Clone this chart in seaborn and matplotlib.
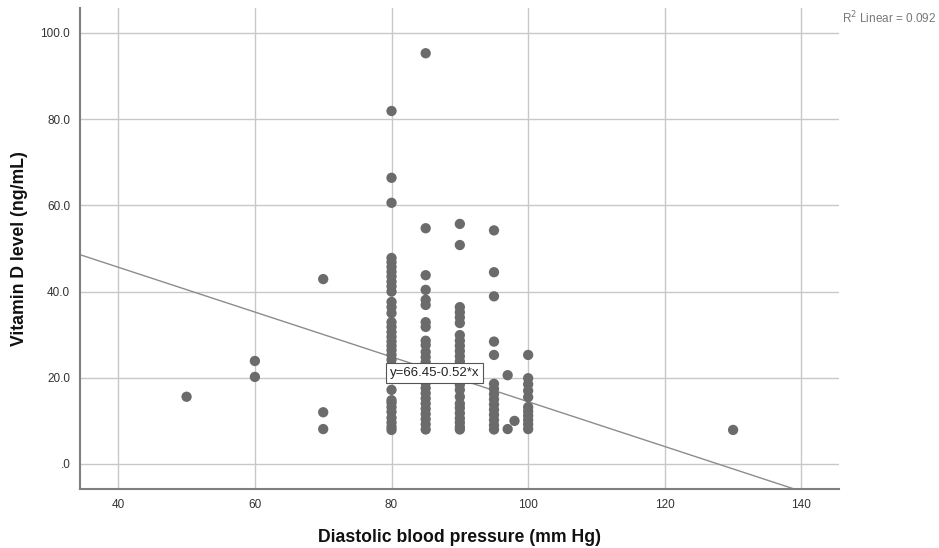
import numpy as np
import pandas as pd
import matplotlib
matplotlib.use("Agg")
import matplotlib.pyplot as plt
import seaborn as sns

# ---- data ----
vitd_50 = [15.6]
vitd_60 = [23.9, 20.2]
vitd_70 = [42.9, 12.0, 8.1]
vitd_80 = [81.9, 66.4, 60.6, 47.8, 46.8, 45.7, 44.6, 43.5, 42.3, 41.2, 40.0,
           37.6, 36.4, 35.0, 32.9, 31.8, 30.6, 29.5, 28.4, 27.4, 26.4, 25.3,
           24.2, 23.0, 21.8, 20.6, 17.2, 14.8, 14.2, 13.2, 12.1, 10.7, 9.6,
           8.6, 7.9]
vitd_85 = [95.3, 54.7, 43.8, 40.4, 38.1, 36.9, 32.9, 31.8, 28.6, 27.6, 26.0,
           24.8, 23.6, 22.4, 21.2, 20.0, 18.8, 17.6, 16.4, 15.2, 14.0, 12.8,
           11.6, 10.4, 9.2, 8.0]
vitd_90 = [55.7, 50.8, 36.4, 35.2, 34.0, 32.7, 29.9, 28.6, 27.4, 26.2, 25.0,
           23.8, 22.6, 21.4, 19.8, 18.4, 17.2, 15.6, 14.0, 13.0, 11.8, 10.6,
           9.6, 8.6, 8.0]
vitd_95 = [54.2, 44.5, 38.9, 28.4, 25.3, 18.6, 17.4, 16.2, 15.0, 13.8, 12.6,
           11.4, 10.2, 9.0, 8.0]
vitd_97 = [20.6, 8.1]
vitd_98 = [10.0]
vitd_100 = [25.3, 19.9, 18.5, 17.0, 15.5, 13.2, 12.2, 11.2, 10.2, 9.2, 8.1]
vitd_130 = [7.9]

groups = {50: vitd_50, 60: vitd_60, 70: vitd_70, 80: vitd_80, 85: vitd_85,
          90: vitd_90, 95: vitd_95, 97: vitd_97, 98: vitd_98, 100: vitd_100,
          130: vitd_130}

intercept = 66.45
slope = -0.52
r2_text = "R$^2$ Linear = 0.092"
eq_text = "y=66.45-0.52*x"

x_ticks = [40, 60, 80, 100, 120, 140]
y_ticks = [0, 20, 40, 60, 80, 100]
y_tick_labels = [".0", "20.0", "40.0", "60.0", "80.0", "100.0"]

df = pd.DataFrame([(k, v) for k, vals in groups.items() for v in vals],
                  columns=["dbp", "vitd"])

# ---- plot ----
sns.set_style("white")
plt.rcParams['font.family'] = ['Liberation Sans', 'DejaVu Sans']

fig = plt.figure(figsize=(9.39, 5.48), dpi=100)
ax = fig.add_axes([0.0852, 0.1077, 0.8083, 0.8777])

xlim = (34.4, 145.5)
ylim = (-5.8, 105.8)

ax.grid(True, color="#c8c8c8", linewidth=1.0)
ax.set_axisbelow(True)

sns.scatterplot(data=df, x="dbp", y="vitd", ax=ax, color="#6b6b6b",
                s=55, edgecolor="none", linewidth=0, zorder=3)

xs = np.array(xlim)
ax.plot(xs, intercept + slope * xs, color="#8c8c8c", linewidth=1.0, zorder=2)

ax.set_xlim(*xlim)
ax.set_ylim(*ylim)
ax.set_xticks(x_ticks)
ax.set_yticks(y_ticks)
ax.set_yticklabels(y_tick_labels)
ax.tick_params(length=0, labelsize=8.5, colors="#333333", pad=7)

for s in ["top", "right"]:
    ax.spines[s].set_visible(False)
for s in ["left", "bottom"]:
    ax.spines[s].set_color("#7f7f7f")
    ax.spines[s].set_linewidth(1.5)

ax.set_xlabel("Diastolic blood pressure (mm Hg)", fontsize=12.7,
              fontweight="bold", color="#111111", labelpad=13)
ax.set_ylabel("Vitamin D level (ng/mL)", fontsize=12.7,
              fontweight="bold", color="#111111", labelpad=9)

ax.text(86.3, 21.1, eq_text, fontsize=9.5, color="#222222", ha="center",
        va="center", zorder=5,
        bbox=dict(boxstyle="square,pad=0.3", facecolor="white",
                  edgecolor="#555555", linewidth=0.8))

fig.text(0.997, 0.967, r2_text, fontsize=8.5, color="#777777",
         ha="right", va="center")

fig.savefig("out.png", dpi=100, facecolor="white")
